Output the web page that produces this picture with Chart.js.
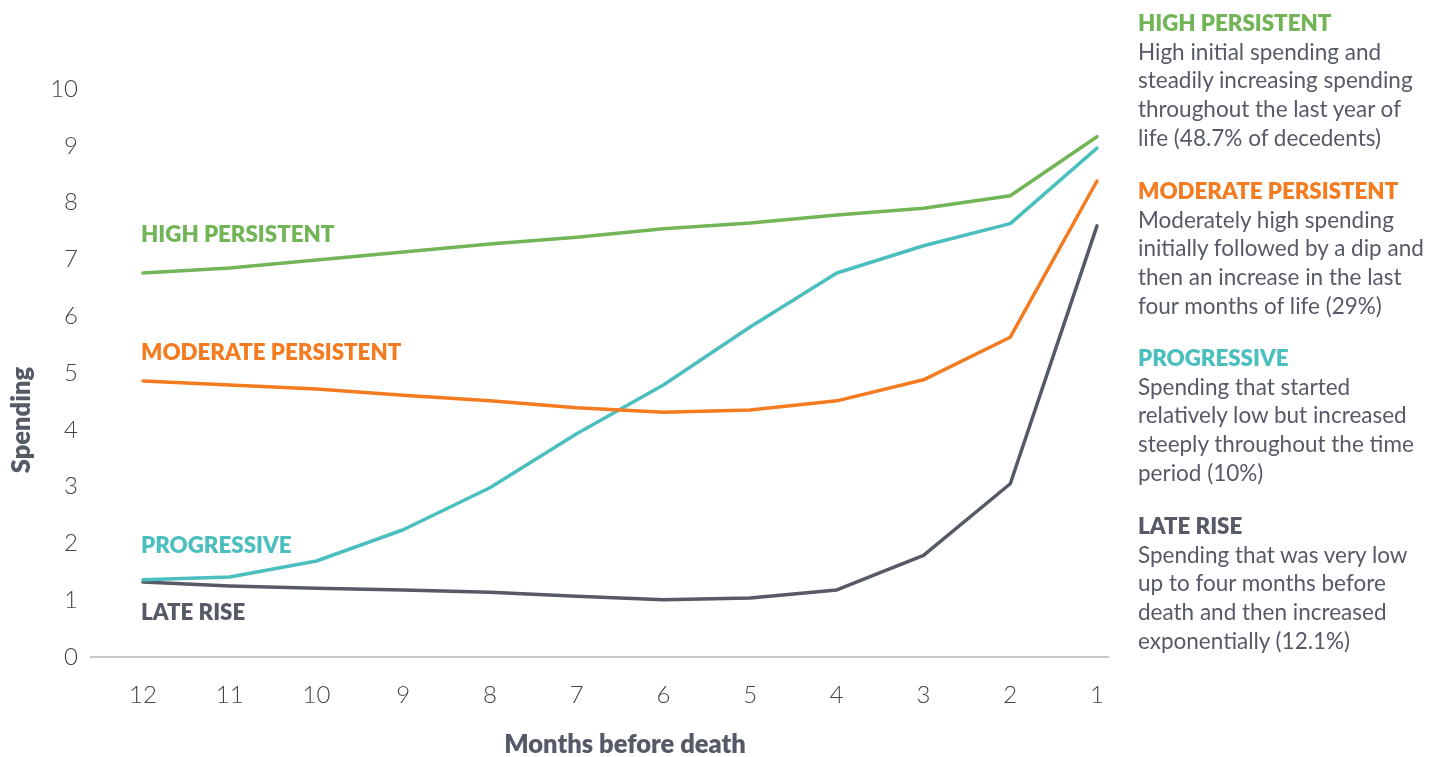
<!DOCTYPE html>
<html>
<head>
<meta charset="utf-8">
<script src="https://cdn.jsdelivr.net/npm/chart.js@4"></script>
<style>
  html, body { margin: 0; padding: 0; background: #fff; }
  #wrap { position: relative; width: 1432px; height: 757px; }
  #chart { position: absolute; left: 0; top: 0; }
  .panel { position: absolute; left: 1138px; font-family: Lato, "Open Sans", sans-serif; font-size: 22.5px; line-height: 28.7px; color: #555a66; white-space: nowrap; }
  .panel .h { font-weight: 800; font-size: 22.3px; }
</style>
</head>
<body>
<div id="wrap">
  <canvas id="chart" width="1432" height="757"></canvas>
  <div class="panel" style="top:9px"><div class="h" style="color:#72b556">HIGH PERSISTENT</div>High initial spending and<br>steadily increasing spending<br>throughout the last year of<br>life (48.7% of decedents)</div>
  <div class="panel" style="top:177px"><div class="h" style="color:#f47b20">MODERATE PERSISTENT</div>Moderately high spending<br>initially followed by a dip and<br>then an increase in the last<br>four months of life (29%)</div>
  <div class="panel" style="top:344px"><div class="h" style="color:#4bbfbd">PROGRESSIVE</div>Spending that started<br>relatively low but increased<br>steeply throughout the time<br>period (10%)</div>
  <div class="panel" style="top:512px"><div class="h" style="color:#555a66">LATE RISE</div>Spending that was very low<br>up to four months before<br>death and then increased<br>exponentially (12.1%)</div>
</div>
<script>
const months = [12, 11, 10, 9, 8, 7, 6, 5, 4, 3, 2, 1];
const highPersistent = [6.76, 6.85, 6.99, 7.13, 7.27, 7.39, 7.54, 7.64, 7.78, 7.90, 8.12, 9.16];
const moderatePersistent = [4.86, 4.79, 4.72, 4.61, 4.51, 4.39, 4.31, 4.35, 4.51, 4.88, 5.63, 8.38];
const progressive = [1.36, 1.41, 1.69, 2.24, 2.98, 3.93, 4.79, 5.81, 6.76, 7.24, 7.63, 8.96];
const lateRise = [1.32, 1.25, 1.21, 1.18, 1.14, 1.07, 1.01, 1.04, 1.18, 1.79, 3.05, 7.59];
const seriesNames = ['HIGH PERSISTENT', 'MODERATE PERSISTENT', 'PROGRESSIVE', 'LATE RISE'];
const seriesColors = ['#72b556', '#f47b20', '#4bbfbd', '#555a66'];
const labelYValues = [7.43, 5.35, 1.95, 0.77];
const yTicks = [0, 1, 2, 3, 4, 5, 6, 7, 8, 9, 10];

const FONT = 'Lato, "Open Sans", sans-serif';
const allSeries = [highPersistent, moderatePersistent, progressive, lateRise];

const toPoints = arr => arr.map((v, i) => ({ x: months[i], y: v }));

const overlay = {
  id: 'overlay',
  afterDraw(chart) {
    const ctx = chart.ctx;
    const xs = chart.scales.x, ys = chart.scales.y;
    ctx.save();
    ctx.font = '800 22.3px ' + FONT;
    ctx.textAlign = 'left';
    ctx.textBaseline = 'middle';
    seriesNames.forEach((n, i) => {
      ctx.fillStyle = seriesColors[i];
      ctx.fillText(n, xs.getPixelForValue(months[0]) - 2, ys.getPixelForValue(labelYValues[i]));
    });
    ctx.fillStyle = '#555a66';
    ctx.font = '800 25.5px ' + FONT;
    ctx.textAlign = 'center';
    ctx.fillText('Months before death', 625, 745);
    ctx.translate(22, 420);
    ctx.rotate(-Math.PI / 2);
    ctx.fillText('Spending', 0, 0);
    ctx.restore();
  }
};

new Chart(document.getElementById('chart'), {
  type: 'line',
  data: {
    datasets: allSeries.map((s, i) => ({
      label: seriesNames[i],
      data: toPoints(s),
      borderColor: seriesColors[i],
      backgroundColor: seriesColors[i],
      borderWidth: 3.5,
      pointRadius: 0,
      borderCapStyle: 'round',
      borderJoinStyle: 'round',
      tension: 0,
      fill: false
    }))
  },
  options: {
    responsive: false,
    animation: false,
    events: [],
    layout: { padding: { left: 0, right: 324, top: 89, bottom: 0 } },
    plugins: { legend: { display: false }, tooltip: { enabled: false }, title: { display: false } },
    scales: {
      x: {
        type: 'linear',
        reverse: true,
        min: 0.873,
        max: 12.6,
        afterFit(s) { s.height = 100; },
        afterBuildTicks(s) { s.ticks = months.map(m => ({ value: m })); },
        grid: { display: false, drawTicks: false },
        border: { display: true, color: '#c8c8c8', width: 2 },
        ticks: { color: '#444', font: { family: FONT, size: 24, weight: '300' }, padding: 24, maxRotation: 0, autoSkip: false }
      },
      y: {
        min: 0,
        max: 10,
        afterFit(s) { s.width = 91; },
        afterBuildTicks(s) { s.ticks = yTicks.map(v => ({ value: v })); },
        grid: { display: false, drawTicks: false },
        border: { display: false },
        ticks: { color: '#444', font: { family: FONT, size: 24, weight: '300' }, padding: 13 }
      }
    }
  },
  plugins: [overlay]
});
</script>
</body>
</html>
